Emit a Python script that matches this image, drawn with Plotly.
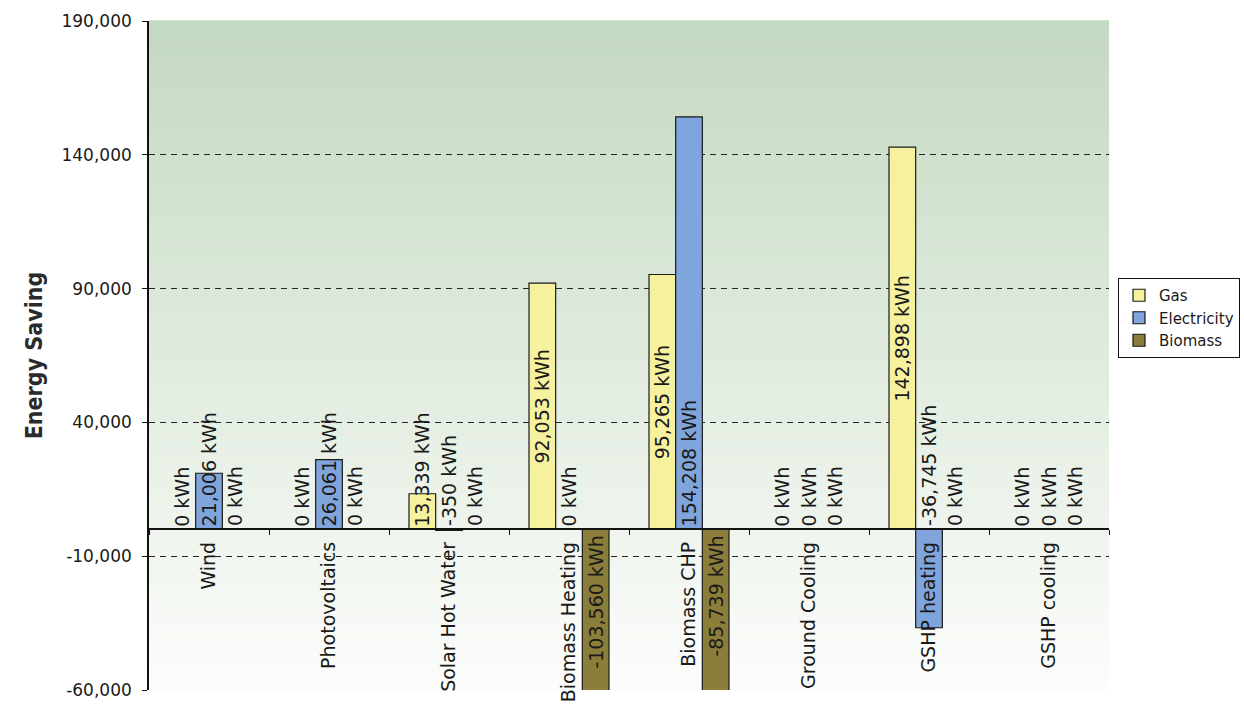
import plotly.graph_objects as go

# Energy saving per technology, split by fuel (kWh)
categories = ["Wind", "Photovoltaics", "Solar Hot Water", "Biomass Heating",
              "Biomass CHP", "Ground Cooling", "GSHP heating", "GSHP cooling"]
gas = [0, 0, 13339, 92053, 95265, 0, 142898, 0]
electricity = [21006, 26061, -350, 0, 154208, 0, -36745, 0]
biomass = [0, 0, 0, -103560, -85739, 0, 0, 0]
y_ticks = [-60000, -10000, 40000, 90000, 140000, 190000]

series = [
    ("Gas", gas, "#f6f19e", "center"),
    ("Electricity", electricity, "#7fa5dc", "base"),
    ("Biomass", biomass, "#8a7e3a", "base"),
]

W, H = 1244, 706
M = dict(l=149, r=135, t=21, b=16, autoexpand=False)
PLOT_W = W - M["l"] - M["r"]
PLOT_H = H - M["t"] - M["b"]
Y_MIN, Y_MAX = y_ticks[0], y_ticks[-1]
PX_PER_UNIT = PLOT_H / (Y_MAX - Y_MIN)
BARGAP = 1 / 3
BAR_W = (1 - BARGAP) / len(series)

FONT = "DejaVu Sans"
LABEL_SIZE = 19
TEXT_COLOR = "#1a1a1a"

fig = go.Figure()

# plot-area background: vertical green-to-white gradient built from thin strips
top_rgb = (196, 217, 193)
bot_rgb = (252, 253, 251)
N_STRIPS = 140
for k in range(N_STRIPS):
    f = k / (N_STRIPS - 1)
    c = tuple(round(top_rgb[i] + (bot_rgb[i] - top_rgb[i]) * f) for i in range(3))
    fig.add_shape(type="rect", xref="paper", yref="paper",
                  x0=0, x1=1, y0=1 - (k + 1) / N_STRIPS, y1=1 - k / N_STRIPS + 0.001,
                  fillcolor="rgb(%d,%d,%d)" % c, line=dict(width=0), layer="below")

for name, vals, color, _ in series:
    fig.add_trace(go.Bar(
        name=name, x=categories, y=vals,
        marker=dict(color=color, line=dict(color="#1a1a1a", width=1.2)),
    ))

# value labels, written vertically inside or beside each bar
for i, (name, vals, color, mode) in enumerate(series):
    offset = (i - (len(series) - 1) / 2) * BAR_W
    for j, v in enumerate(vals):
        text = f"{v:,} kWh"
        est_len = len(text) * 0.58 * LABEL_SIZE
        bar_px = abs(v) * PX_PER_UNIT
        if mode == "center" and v > 0 and bar_px > est_len + 8:
            y, yanchor, yshift = v / 2, "middle", 0
        elif v < 0 and name == "Biomass":
            y, yanchor, yshift = 0, "top", -4
        else:
            y, yanchor, yshift = 0, "bottom", 1
        fig.add_annotation(
            x=j + offset, y=y, text=text, textangle=-90, showarrow=False,
            xanchor="center", yanchor=yanchor, yshift=yshift,
            font=dict(family=FONT, size=LABEL_SIZE, color=TEXT_COLOR),
        )

fig.update_layout(
    width=W, height=H, autosize=False, margin=M,
    paper_bgcolor="white", plot_bgcolor="white",
    barmode="group", bargap=BARGAP, bargroupgap=0,
    font=dict(family=FONT, color=TEXT_COLOR),
    legend=dict(
        x=(W - 4 - M["l"]) / PLOT_W, xanchor="right",
        y=(H - M["b"] - 318) / PLOT_H, yanchor="middle",
        bordercolor="#111", borderwidth=1, bgcolor="white",
        font=dict(family=FONT, size=15, color=TEXT_COLOR),
        itemwidth=30, tracegroupgap=0,
    ),
)

fig.update_xaxes(
    type="category", range=[-0.5, len(categories) - 0.5],
    anchor="free", position=(0 - Y_MIN) / (Y_MAX - Y_MIN), automargin=False,
    showline=True, linecolor="#111", linewidth=1.6,
    ticks="outside", tickson="boundaries", ticklen=5, tickcolor="#111", tickwidth=1.4,
    tickangle=-90, ticklabelstandoff=4,
    tickfont=dict(family=FONT, size=19, color=TEXT_COLOR),
    showgrid=False, zeroline=False,
)

fig.update_yaxes(
    range=[Y_MIN, Y_MAX], tickvals=y_ticks, ticktext=[f"{v:,}" for v in y_ticks],
    automargin=False,
    showgrid=True, gridcolor="#262626", gridwidth=1.2, griddash="6px,5px",
    showline=True, linecolor="#111", linewidth=1.6,
    ticks="outside", ticklen=5, tickcolor="#111", tickwidth=1.2, ticklabelstandoff=7,
    tickfont=dict(family=FONT, size=17, color=TEXT_COLOR),
    zeroline=False,
    title=dict(text="Energy Saving", standoff=12,
               font=dict(family="DejaVu Sans Condensed", size=23, weight="bold", color="#2a2a2a")),
)

fig.write_html("out.html")
